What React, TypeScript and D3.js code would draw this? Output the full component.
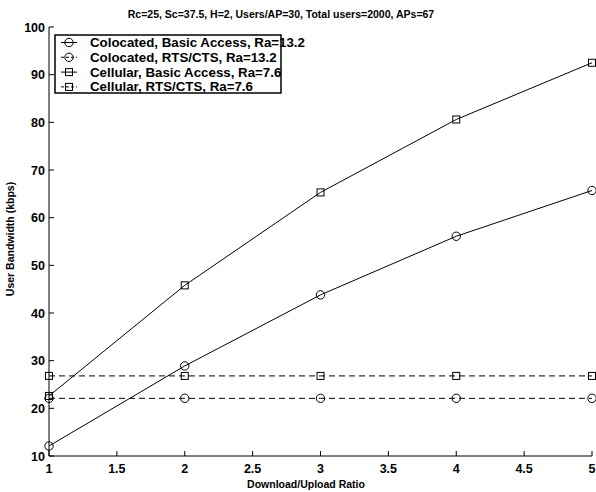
import React from "react";
import * as d3 from "d3";

const ratios = [1, 2, 3, 4, 5];
const colocatedBasic = [12.1, 28.9, 43.8, 56.1, 65.7];
const colocatedRts = [22.1, 22.1, 22.1, 22.1, 22.1];
const cellularBasic = [22.6, 45.8, 65.3, 80.6, 92.5];
const cellularRts = [26.8, 26.8, 26.8, 26.8, 26.8];
const seriesNames = [
  "Colocated, Basic Access, Ra=13.2",
  "Colocated, RTS/CTS, Ra=13.2",
  "Cellular, Basic Access, Ra=7.6",
  "Cellular, RTS/CTS, Ra=7.6",
];
const xTicks = [1, 1.5, 2, 2.5, 3, 3.5, 4, 4.5, 5];
const yTicks = [10, 20, 30, 40, 50, 60, 70, 80, 90, 100];
const title = "Rc=25, Sc=37.5, H=2, Users/AP=30, Total users=2000, APs=67";
const xLabel = "Download/Upload Ratio";
const yLabel = "User Bandwidth (kbps)";

export default function App() {
  const W = 596, H = 492;
  const x = d3.scaleLinear().domain([1, 5]).range([49, 592]);
  const y = d3.scaleLinear().domain([10, 100]).range([456, 27]);
  const font = "'Liberation Sans', Arial, sans-serif";
  const series = [
    { vals: colocatedBasic, marker: "circle", dash: undefined },
    { vals: colocatedRts, marker: "circle", dash: "6,4" },
    { vals: cellularBasic, marker: "square", dash: undefined },
    { vals: cellularRts, marker: "square", dash: "6,4" },
  ];
  const line = d3.line<number>().x((_, i) => x(ratios[i])).y((v) => y(v));
  const marker = (kind: string, cx: number, cy: number, key: any) =>
    kind === "circle" ? (
      <circle key={key} cx={cx} cy={cy} r={4.2} fill="none" stroke="#000" strokeWidth={1} />
    ) : (
      <rect key={key} x={cx - 3.5} y={cy - 3.5} width={7} height={7} fill="none" stroke="#000" strokeWidth={1} />
    );
  const legX = 55, legY = 35, legW = 226, legH = 58;
  return (
    <svg width={W} height={H} style={{ position: "absolute", left: 0, top: 0, background: "#fff" }}>
      <rect width={W} height={H} fill="#fff" />
      <text x={281} y={18} textAnchor="middle" fontFamily={font} fontSize={10.5} fontWeight="bold">{title}</text>
      {/* axes */}
      <line x1={x(1)} x2={x(1)} y1={y(100)} y2={y(10)} stroke="#000" />
      <line x1={x(1)} x2={x(5)} y1={y(10)} y2={y(10)} stroke="#000" />
      {yTicks.map((t) => (
        <g key={"y" + t}>
          <line x1={x(1)} x2={x(1) + 5} y1={y(t)} y2={y(t)} stroke="#000" />
          <text x={45} y={y(t) + 4.5} textAnchor="end" fontFamily={font} fontSize={12.5} fontWeight="bold">{t}</text>
        </g>
      ))}
      {xTicks.map((t) => (
        <g key={"x" + t}>
          <line x1={x(t)} x2={x(t)} y1={y(10)} y2={y(10) - 5} stroke="#000" />
          <text x={x(t)} y={473} textAnchor="middle" fontFamily={font} fontSize={12.5} fontWeight="bold">{t}</text>
        </g>
      ))}
      <text x={306} y={488} textAnchor="middle" fontFamily={font} fontSize={10.5} fontWeight="bold">{xLabel}</text>
      <text transform={`translate(14,239) rotate(-90)`} textAnchor="middle" fontFamily={font} fontSize={10.5} fontWeight="bold">{yLabel}</text>
      {/* series */}
      {series.map((s, si) => (
        <g key={"s" + si}>
          <path d={line(s.vals) || ""} fill="none" stroke="#000" strokeWidth={1} strokeDasharray={s.dash} />
          {s.vals.map((v, i) => marker(s.marker, x(ratios[i]), y(v), i))}
        </g>
      ))}
      {/* legend */}
      <rect x={legX} y={legY} width={legW} height={legH} fill="#fff" stroke="#000" strokeWidth={1.5} />
      {series.map((s, i) => {
        const ry = 42.5 + i * 14.8;
        return (
          <g key={"l" + i}>
            <line x1={61} x2={77} y1={ry} y2={ry} stroke="#000" strokeDasharray={s.dash ? "3,2" : undefined} />
            {marker(s.marker, 69, ry, "m")}
            <text x={90} y={ry + 4.5} fontFamily={font} fontSize={13.3} fontWeight="bold">{seriesNames[i]}</text>
          </g>
        );
      })}
    </svg>
  );
}
